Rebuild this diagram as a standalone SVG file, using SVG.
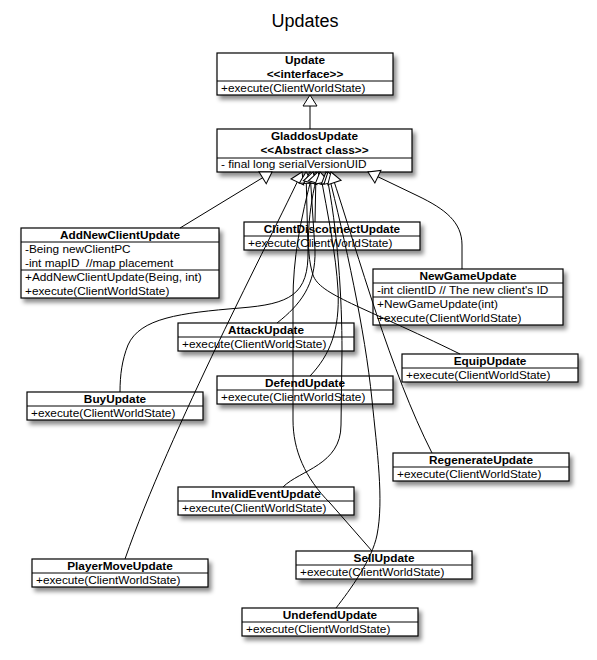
<svg xmlns="http://www.w3.org/2000/svg" width="597" height="660" viewBox="0 0 597 660">
<style>
.box{fill:#fff;stroke:#000;stroke-width:1.2;filter:url(#sh)}
.dv{stroke:#000;stroke-width:1}
.t{font-family:"Liberation Sans",Arial,Helvetica,sans-serif;font-size:11.8px;fill:#000}
.b{font-weight:bold;text-anchor:middle}
.c{fill:none;stroke:#000;stroke-width:1;marker-start:url(#tri)}
.ttl{font-family:"Liberation Sans",Arial,Helvetica,sans-serif;font-size:18px;text-anchor:middle;fill:#000}
</style>
<defs>
<filter id="sh" x="-10%" y="-20%" width="130%" height="160%">
<feDropShadow dx="3" dy="4" stdDeviation="2" flood-color="#000" flood-opacity="0.45"/>
</filter>
<marker id="tri" markerUnits="userSpaceOnUse" markerWidth="16" markerHeight="18" refX="12" refY="8" orient="auto-start-reverse" overflow="visible">
<path d="M12,8 L1,1 L1,15 Z" fill="#fff" stroke="#000" stroke-width="1"/>
</marker>
</defs>
<rect width="597" height="660" fill="#fff"/>
<text class="ttl" x="305" y="27">Updates</text>

<g id="Update">
<rect class="box" x="217" y="53" width="176" height="42"/>
<line class="dv" x1="217" y1="81" x2="393" y2="81"/>
<text class="t b" x="305" y="63.5">Update</text>
<text class="t b" x="305" y="77.5">&lt;&lt;interface&gt;&gt;</text>
<text class="t" x="221" y="91.5">+execute(ClientWorldState)</text>
</g>

<g id="GladdosUpdate">
<rect class="box" x="217" y="129" width="195" height="43"/>
<line class="dv" x1="217" y1="158" x2="412" y2="158"/>
<text class="t b" x="314.5" y="139.5">GladdosUpdate</text>
<text class="t b" x="314.5" y="153.5">&lt;&lt;Abstract class&gt;&gt;</text>
<text class="t" x="221" y="168">- final long serialVersionUID</text>
</g>

<g id="AddNewClientUpdate">
<rect class="box" x="21" y="228" width="198" height="70"/>
<line class="dv" x1="21" y1="242" x2="219" y2="242"/>
<line class="dv" x1="21" y1="270" x2="219" y2="270"/>
<text class="t b" x="120" y="238.5">AddNewClientUpdate</text>
<text class="t" x="25" y="252.5">-Being newClientPC</text>
<text class="t" x="25" y="266.5" xml:space="preserve">-int mapID  //map placement</text>
<text class="t" x="25" y="280.5">+AddNewClientUpdate(Being, int)</text>
<text class="t" x="25" y="294.5">+execute(ClientWorldState)</text>
</g>

<g id="ClientDisconnectUpdate">
<rect class="box" x="244" y="222" width="176" height="28"/>
<line class="dv" x1="244" y1="236" x2="420" y2="236"/>
<text class="t b" x="332" y="232.5">ClientDisconnectUpdate</text>
<text class="t" x="248" y="246.5">+execute(ClientWorldState)</text>
</g>

<g id="NewGameUpdate">
<rect class="box" x="373" y="269" width="190" height="56"/>
<line class="dv" x1="373" y1="283" x2="563" y2="283"/>
<line class="dv" x1="373" y1="297" x2="563" y2="297"/>
<text class="t b" x="468" y="279.5">NewGameUpdate</text>
<text class="t" x="377" y="293.5">-int clientID // The new client's ID</text>
<text class="t" x="377" y="307.5">+NewGameUpdate(int)</text>
<text class="t" x="377" y="321.5">+execute(ClientWorldState)</text>
</g>

<g id="AttackUpdate">
<rect class="box" x="178" y="323" width="176" height="28"/>
<line class="dv" x1="178" y1="337" x2="354" y2="337"/>
<text class="t b" x="266" y="333.5">AttackUpdate</text>
<text class="t" x="182" y="347.5">+execute(ClientWorldState)</text>
</g>

<g id="EquipUpdate">
<rect class="box" x="402" y="354" width="176" height="28"/>
<line class="dv" x1="402" y1="368" x2="578" y2="368"/>
<text class="t b" x="490" y="364.5">EquipUpdate</text>
<text class="t" x="406" y="378.5">+execute(ClientWorldState)</text>
</g>

<g id="DefendUpdate">
<rect class="box" x="217" y="376" width="176" height="28"/>
<line class="dv" x1="217" y1="390" x2="393" y2="390"/>
<text class="t b" x="305" y="386.5">DefendUpdate</text>
<text class="t" x="221" y="400.5">+execute(ClientWorldState)</text>
</g>

<g id="BuyUpdate">
<rect class="box" x="27" y="392" width="176" height="28"/>
<line class="dv" x1="27" y1="406" x2="203" y2="406"/>
<text class="t b" x="115" y="402.5">BuyUpdate</text>
<text class="t" x="31" y="416.5">+execute(ClientWorldState)</text>
</g>

<g id="RegenerateUpdate">
<rect class="box" x="393" y="453" width="176" height="28"/>
<line class="dv" x1="393" y1="467" x2="569" y2="467"/>
<text class="t b" x="481" y="463.5">RegenerateUpdate</text>
<text class="t" x="397" y="477.5">+execute(ClientWorldState)</text>
</g>

<g id="InvalidEventUpdate">
<rect class="box" x="178" y="487" width="176" height="28"/>
<line class="dv" x1="178" y1="501" x2="354" y2="501"/>
<text class="t b" x="266" y="497.5">InvalidEventUpdate</text>
<text class="t" x="182" y="511.5">+execute(ClientWorldState)</text>
</g>

<g id="PlayerMoveUpdate">
<rect class="box" x="32" y="559" width="176" height="28"/>
<line class="dv" x1="32" y1="573" x2="208" y2="573"/>
<text class="t b" x="120" y="569.5">PlayerMoveUpdate</text>
<text class="t" x="36" y="583.5">+execute(ClientWorldState)</text>
</g>

<g id="SellUpdate">
<rect class="box" x="296" y="551" width="176" height="28"/>
<line class="dv" x1="296" y1="565" x2="472" y2="565"/>
<text class="t b" x="384" y="561.5">SellUpdate</text>
<text class="t" x="300" y="575.5">+execute(ClientWorldState)</text>
</g>

<g id="UndefendUpdate">
<rect class="box" x="242" y="608" width="176" height="28"/>
<line class="dv" x1="242" y1="622" x2="418" y2="622"/>
<text class="t b" x="330" y="618.5">UndefendUpdate</text>
<text class="t" x="246" y="632.5">+execute(ClientWorldState)</text>
</g>

<g id="connectors">
<path class="c" d="M310,95 L310,129"/>
<path class="c" d="M272,172 L180,228"/>
<path class="c" d="M368,172 L418,196 C445,209 462,222 462,245 L462,269"/>
<path class="c" d="M316,172 L315,222"/>
<path class="c" d="M302,172 C270,240 170,430 125,559"/>
<path class="c" d="M306,172 L308,250 C309,295 290,304 240,308 C180,313 140,318 128,345 C122,360 120,375 120,392"/>
<path class="c" d="M310,172 L315,250 C316,285 300,305 277,323"/>
<path class="c" d="M313,172 C300,220 293,260 293,300 L293,420 C293,450 305,478 330,503 L372,551"/>
<path class="c" d="M318,172 C308,210 305,250 313,275 C320,295 360,305 460,354"/>
<path class="c" d="M320,172 C328,215 336,255 338,290 C340,330 330,355 310,376"/>
<path class="c" d="M326,172 C338,230 342,300 342,350 L341,425 C341,465 300,470 283,487"/>
<path class="c" d="M328,172 C345,240 365,330 372,400 C377,450 384,500 377,535 C372,560 350,590 336,608"/>
<path class="c" d="M331,172 C360,260 390,370 432,453"/>
</g>
</svg>
